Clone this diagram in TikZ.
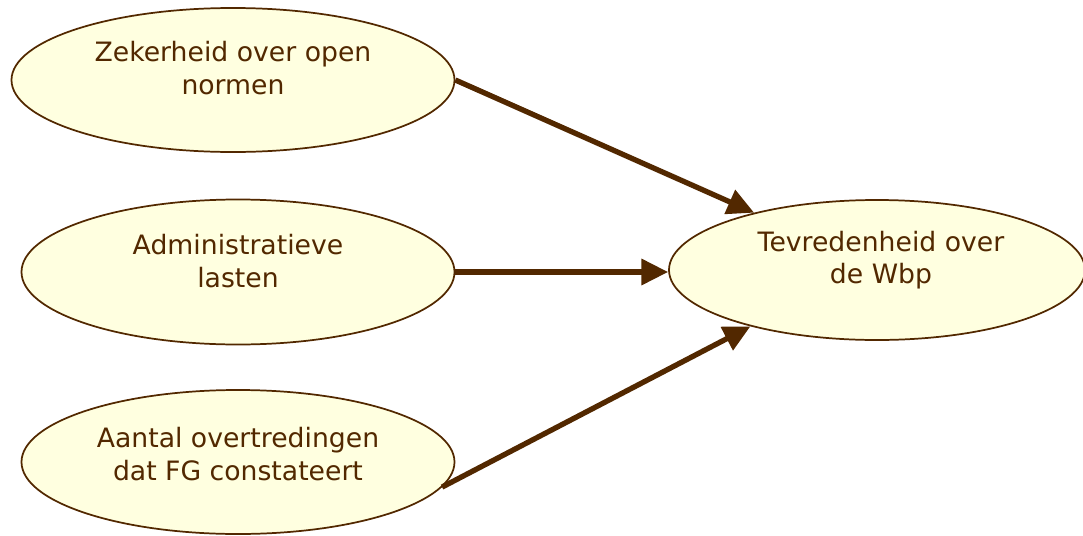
\documentclass[tikz,border=0pt]{standalone}
\usepackage{fontspec}
\setmainfont{DejaVu Sans}
\usepackage{tikz}
\usetikzlibrary{arrows.meta,shapes.geometric}
\definecolor{bruin}{RGB}{82,40,0}
\definecolor{geel}{RGB}{255,255,224}

\begin{document}
\begin{tikzpicture}[x=0.75pt,y=-0.75pt,>={Triangle[length=20pt,width=19pt]}]
	\tikzset{
		ovaal/.style={ellipse,draw=bruin,fill=geel,line width=1.3pt,inner sep=0pt},
		tekst/.style={text=bruin,align=center,font=\fontsize{20}{24.5}\selectfont},
		pijl/.style={->,draw=bruin,line width=4pt}
	}
	\clip (0,0) rectangle (1083,536);
	
	% oorzaken
	\node[ovaal,minimum width=332.25pt,minimum height=108pt] (zek) at (233,80) {};
	\node[ovaal,minimum width=324.75pt,minimum height=108.75pt] (adm) at (238,272) {};
	\node[ovaal,minimum width=324.75pt,minimum height=108pt] (aan) at (238,462) {};
	% gevolg
	\node[ovaal,minimum width=312pt,minimum height=105pt] (tev) at (877,270) {};
	
	\node[tekst] (zekt) at (233,68) {Zekerheid over open\\normen};
	\node[tekst] (admt) at (238,261) {Administratieve\\lasten};
	\node[tekst] (aant) at (238,454) {Aantal overtredingen\\dat FG constateert};
	\node[tekst] (tevt) at (881,260) {Tevredenheid over\\de Wbp};
	
	\draw[pijl] (zek.east) -- (tev.155);
	\draw[pijl] (adm.east) -- (adm.east -| tev.west);
	\draw[pijl] (aan.-7) -- (tev.-156);
\end{tikzpicture}
\end{document}
